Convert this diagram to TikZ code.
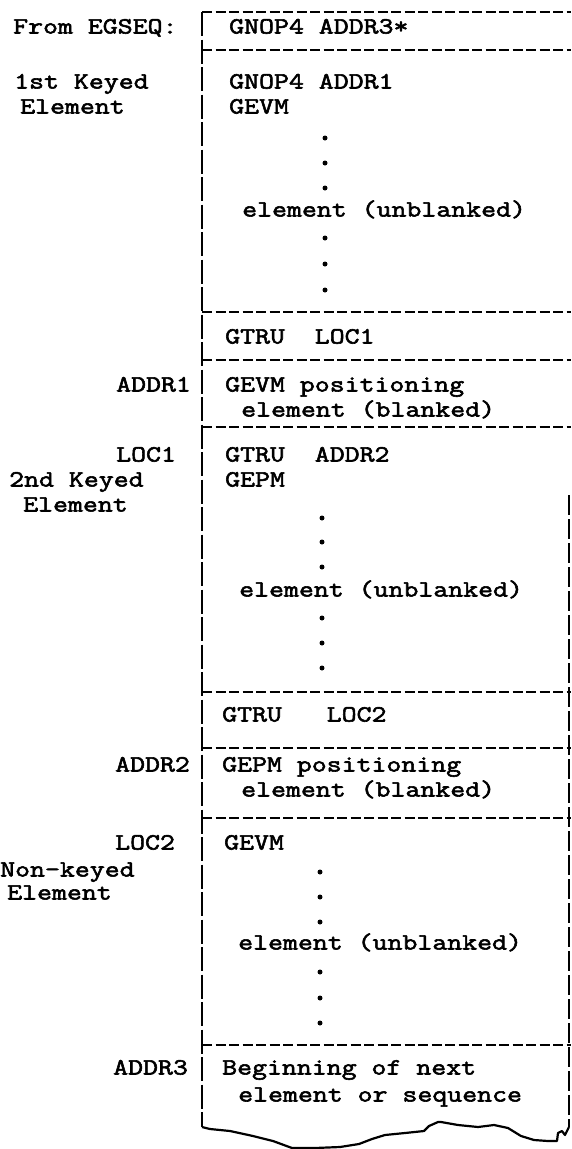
\documentclass[tikz,border=0pt]{standalone}
\usepackage{fontspec}
\newfontfamily\tw[FakeStretch=1.25,FakeBold=2.5]{Latin Modern Mono}
\begin{document}
\begin{tikzpicture}[x=1pt,y=-1pt,
  txt/.style={anchor=base west,inner sep=0pt,font=\tw\fontsize{23.2}{28}\selectfont},
  sepline/.style={line width=1.8pt,dash pattern=on 10pt off 3.5pt},
  lborder/.style={line width=2.2pt,dash pattern=on 24pt off 3.5pt},
  rborder/.style={line width=1.5pt,dash pattern=on 20pt off 4pt},
  tear/.style={line width=2.2pt,line join=round},
  dotmark/.style={circle,fill=black,inner sep=0pt,minimum size=5pt}]
\useasboundingbox (0,0) rectangle (571,1149);
% borders
\draw[lborder] (202,12) -- (202,1127);
\draw[rborder] (569,495) -- (569,1127);
\draw[sepline] (202,12) -- (571,12);
\foreach \yy in {50,312,360,427,692,748,818,1045}
  \draw[sepline] (202,\yy) -- (571,\yy);
% torn bottom edge
\draw[tear] (202,1127) -- (210,1129) -- (230,1131) -- (253,1136) -- (273,1141)
  -- (292,1148) -- (315,1148) -- (340,1147) -- (359,1144) -- (372,1139)
  -- (385,1135) -- (405,1133) -- (424,1131) -- (429,1126) -- (438,1122)
  -- (441,1122) -- (458,1125) -- (478,1127) -- (494,1125) -- (508,1128)
  -- (521,1136) -- (534,1140) -- (548,1141) -- (557,1141) -- (558,1133)
  -- (562,1131) -- (565,1135) -- (569,1127);
% left labels
\node[txt] (l0) at (13,33.5) {From EGSEQ:};
\node[txt] (l1a) at (14,88.5) {1st Keyed};
\node[txt] (l1b) at (20,113.5) {Element};
\node[txt] (la1) at (116,391.5) {ADDR1};
\node[txt] (lloc1) at (116,461.5) {LOC1};
\node[txt] (l2a) at (9,486.5) {2nd Keyed};
\node[txt] (l2b) at (23,511.5) {Element};
\node[txt] (la2) at (115,771.5) {ADDR2};
\node[txt] (lloc2) at (115,849.5) {LOC2};
\node[txt] (l3a) at (0,876.5) {Non-keyed};
\node[txt] (l3b) at (7,899.5) {Element};
\node[txt] (la3) at (113,1074.5) {ADDR3};
% box texts
\node[txt] (t0) at (229,33.5) {GNOP4 ADDR3*};
\node[txt] (t1) at (229,88.5) {GNOP4 ADDR1};
\node[txt] (t2) at (229,113.5) {GEVM};
\node[txt] (t3) at (242,216.5) {element (unblanked)};
\node[txt] (t4) at (225,343.5) {GTRU\ \ LOC1};
\node[txt] (t5) at (225,391.5) {GEVM positioning};
\node[txt] (t6) at (241,416.5) {element (blanked)};
\node[txt] (t7) at (225,461.5) {GTRU\ \ ADDR2};
\node[txt] (t8) at (225,486.5) {GEPM};
\node[txt] (t9) at (239,596.5) {element (unblanked)};
\node[txt] (t10) at (222,721.5) {GTRU\ \ \ LOC2};
\node[txt] (t11) at (222,771.5) {GEPM positioning};
\node[txt] (t12) at (241,796.5) {element (blanked)};
\node[txt] (t13) at (224,849.5) {GEVM};
\node[txt] (t14) at (238,949.5) {element (unblanked)};
\node[txt] (t15) at (222,1074.5) {Beginning of next};
\node[txt] (t16) at (238,1101.5) {element or sequence};
% dots
\foreach \yy [count=\i] in {138,163,188,238,264,290}
  \node[dotmark] (da\i) at (325,\yy) {};
\foreach \yy [count=\i] in {518,542,567,618,643,668}
  \node[dotmark] (db\i) at (322,\yy) {};
\foreach \yy [count=\i] in {872,897,922,972,998,1023}
  \node[dotmark] (dc\i) at (320,\yy) {};
\end{tikzpicture}
\end{document}
